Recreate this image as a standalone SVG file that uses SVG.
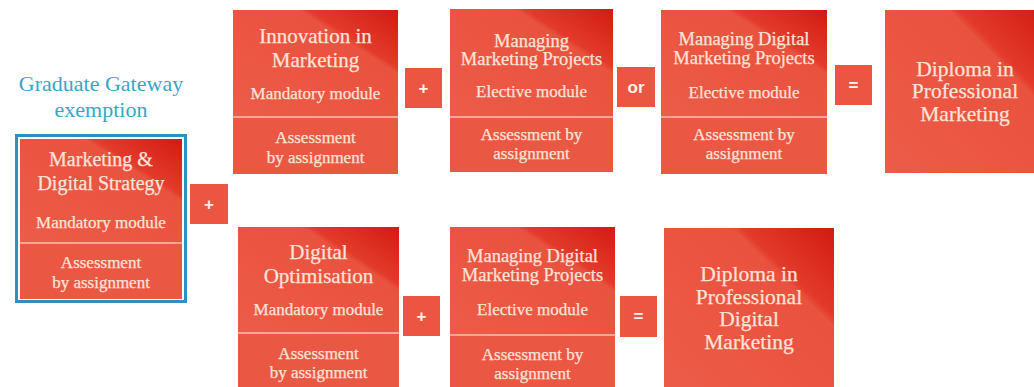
<svg xmlns="http://www.w3.org/2000/svg" width="1034" height="387" viewBox="0 0 1034 387">
<defs>
<linearGradient id="g" x1="0" y1="1" x2="1" y2="0">
<stop offset="0" stop-color="#ec5c48"/>
<stop offset="0.7" stop-color="#e9523e"/>
<stop offset="0.73" stop-color="#e23b2b"/>
<stop offset="1" stop-color="#d31a12"/>
</linearGradient>
<style>
.top{fill:url(#g)}
.bot{fill:#ea5844}
.div{stroke:#f7c2b6;stroke-width:1.5}
.op{fill:#ea5642}
.t{font-family:"Liberation Serif",serif;fill:#fce2d8;text-anchor:middle;stroke:#fce2d8;stroke-width:0.25}
.h{font-size:21px}
.hm{font-size:18.5px}
.s{font-size:17px}
.d{font-size:21.5px}
.o{font-family:"Liberation Sans",Arial,sans-serif;font-weight:bold;font-size:17px;fill:#fdf1ec;text-anchor:middle}
.gw{font-family:"Liberation Serif",serif;font-size:22px;fill:#3aa6c4;text-anchor:middle}
</style>
</defs>
<rect width="1034" height="387" fill="#ffffff"/>
<g id="connectors"></g>

<g id="gateway-label">
<text class="gw" x="101" y="91">Graduate Gateway</text>
<text class="gw" x="101" y="117">exemption</text>
</g>

<g id="node-marketing-digital-strategy">
<rect x="16.5" y="135.5" width="169" height="166" fill="none" stroke="#2e8fc0" stroke-width="3"/>
<rect x="20" y="139" width="162" height="104" class="top"/>
<rect x="20" y="243" width="162" height="56" class="bot"/>
<line x1="20" y1="243" x2="182" y2="243" class="div"/>
<text class="t h" x="101" y="166" style="font-size:20px">Marketing &amp;</text>
<text class="t h" x="101" y="190" style="font-size:20px">Digital Strategy</text>
<text class="t s" x="101" y="228">Mandatory module</text>
<text class="t s" x="101" y="268">Assessment</text>
<text class="t s" x="101" y="288">by assignment</text>
</g>

<g id="op-plus-left">
<rect x="190" y="184" width="38" height="40" class="op"/>
<text class="o" x="209" y="210">+</text>
</g>

<g id="node-innovation">
<rect x="233" y="10" width="165" height="107" class="top"/>
<rect x="233" y="117" width="165" height="57" class="bot"/>
<line x1="233" y1="117" x2="398" y2="117" class="div"/>
<text class="t h" x="315.5" y="43">Innovation in</text>
<text class="t h" x="315.5" y="67">Marketing</text>
<text class="t s" x="315.5" y="99">Mandatory module</text>
<text class="t s" x="315.5" y="143">Assessment</text>
<text class="t s" x="315.5" y="163">by assignment</text>
</g>

<g id="op-plus-top">
<rect x="405" y="68" width="37" height="40" class="op"/>
<text class="o" x="423.5" y="94">+</text>
</g>

<g id="node-managing-marketing">
<rect x="450" y="9" width="163" height="108" class="top"/>
<rect x="450" y="117" width="163" height="55" class="bot"/>
<line x1="450" y1="117" x2="613" y2="117" class="div"/>
<text class="t hm" x="531.5" y="47">Managing</text>
<text class="t hm" x="531.5" y="65">Marketing Projects</text>
<text class="t s" x="531.5" y="97">Elective module</text>
<text class="t s" x="531.5" y="140">Assessment by</text>
<text class="t s" x="531.5" y="159">assignment</text>
</g>

<g id="op-or">
<rect x="617" y="67" width="38" height="40" class="op"/>
<text class="o" x="636" y="93">or</text>
</g>

<g id="node-managing-digital-top">
<rect x="661" y="10" width="166" height="107" class="top"/>
<rect x="661" y="117" width="166" height="57" class="bot"/>
<line x1="661" y1="117" x2="827" y2="117" class="div"/>
<text class="t hm" x="744" y="45">Managing Digital</text>
<text class="t hm" x="744" y="64">Marketing Projects</text>
<text class="t s" x="744" y="98">Elective module</text>
<text class="t s" x="744" y="140">Assessment by</text>
<text class="t s" x="744" y="159">assignment</text>
</g>

<g id="op-equals-top">
<rect x="835" y="65" width="37" height="40" class="op"/>
<text class="o" x="853.5" y="91">=</text>
</g>

<g id="node-diploma-marketing">
<rect x="885" y="10" width="160" height="163" class="top"/>
<text class="t d" x="965" y="76">Diploma in</text>
<text class="t d" x="965" y="98">Professional</text>
<text class="t d" x="965" y="121">Marketing</text>
</g>

<g id="node-digital-optimisation">
<rect x="238" y="227" width="161" height="106" class="top"/>
<rect x="238" y="333" width="161" height="60" class="bot"/>
<line x1="238" y1="333" x2="399" y2="333" class="div"/>
<text class="t h" x="318.5" y="259">Digital</text>
<text class="t h" x="318.5" y="283">Optimisation</text>
<text class="t s" x="318.5" y="315">Mandatory module</text>
<text class="t s" x="318.5" y="359">Assessment</text>
<text class="t s" x="318.5" y="378">by assignment</text>
</g>

<g id="op-plus-bottom">
<rect x="403" y="296" width="37" height="40" class="op"/>
<text class="o" x="421.5" y="322">+</text>
</g>

<g id="node-managing-digital-bottom">
<rect x="450" y="227" width="165" height="108" class="top"/>
<rect x="450" y="335" width="165" height="58" class="bot"/>
<line x1="450" y1="335" x2="615" y2="335" class="div"/>
<text class="t hm" x="532.5" y="262">Managing Digital</text>
<text class="t hm" x="532.5" y="281">Marketing Projects</text>
<text class="t s" x="532.5" y="315">Elective module</text>
<text class="t s" x="532.5" y="360">Assessment by</text>
<text class="t s" x="532.5" y="379">assignment</text>
</g>

<g id="op-equals-bottom">
<rect x="620" y="296" width="37" height="41" class="op"/>
<text class="o" x="638.5" y="322">=</text>
</g>

<g id="node-diploma-digital">
<rect x="664" y="228" width="170" height="165" class="top"/>
<text class="t d" x="749" y="281">Diploma in</text>
<text class="t d" x="749" y="304">Professional</text>
<text class="t d" x="749" y="326">Digital</text>
<text class="t d" x="749" y="349">Marketing</text>
</g>
</svg>
